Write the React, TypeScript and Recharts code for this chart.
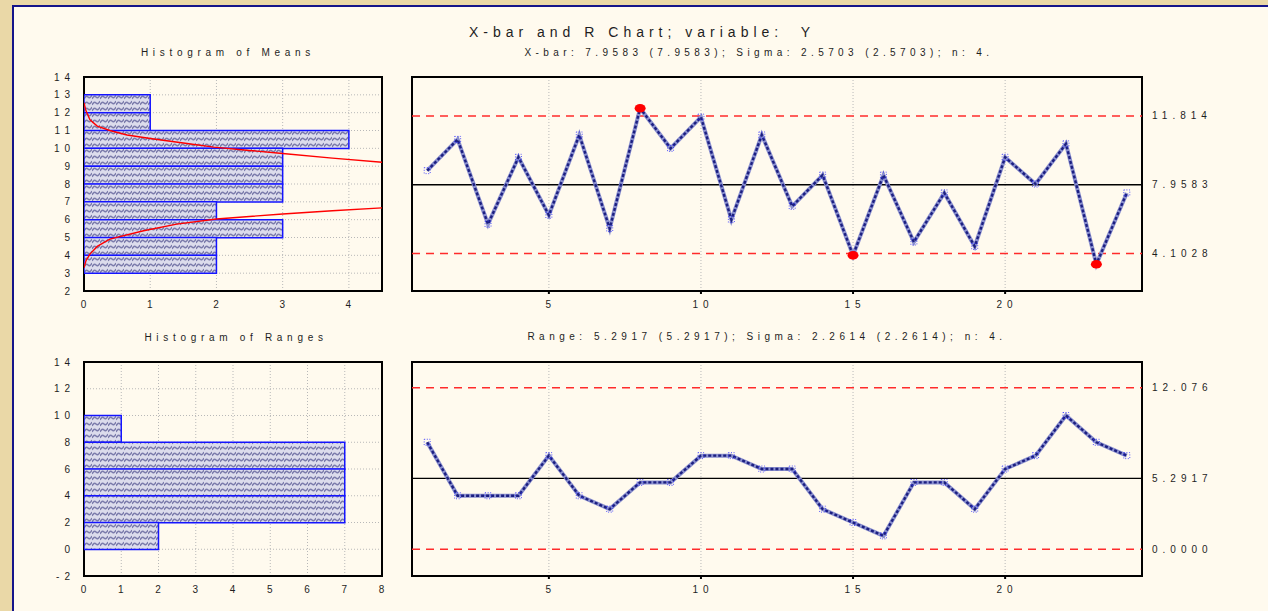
import React from "react";
import {
  ComposedChart,
  Line,
  Bar,
  Scatter,
  XAxis,
  YAxis,
  CartesianGrid,
  ReferenceLine,
  ReferenceArea,
} from "recharts";

// sample numbers and the two series
const samples = [1, 2, 3, 4, 5, 6, 7, 8, 9, 10, 11, 12, 13, 14, 15, 16, 17, 18, 19, 20, 21, 22, 23, 24];
const xbarMeans = [8.75, 10.5, 5.75, 9.5, 6.25, 10.75, 5.5, 12.25, 10, 11.75, 6, 10.75, 6.75, 8.5, 4, 8.5, 4.75, 7.5, 4.5, 9.5, 8, 10.25, 3.5, 7.5];
const ranges = [8, 4, 4, 4, 7, 4, 3, 5, 5, 7, 7, 6, 6, 3, 2, 1, 5, 5, 3, 6, 7, 10, 8, 7];

// control limits: LCL, CL, UCL
const xbarLimits = [4.1028, 7.9583, 11.814];
const xbarLimitLabels = ["4.1028", "7.9583", "11.814"];
const rangeLimits = [0, 5.2917, 12.076];
const rangeLimitLabels = ["0.0000", "5.2917", "12.076"];

// histograms (top bin first)
const meanBinLows = [13, 12, 11, 10, 9, 8, 7, 6, 5, 4, 3, 2];
const meanBinCounts = [0, 1, 1, 4, 3, 3, 3, 2, 3, 2, 2, 0];
const rangeBinLows = [12, 10, 8, 6, 4, 2, 0, -2];
const rangeBinCounts = [0, 0, 1, 7, 7, 7, 2, 0];

// normal curve: [count, value]
const normalUpper = [[0, 12.55], [0.03, 12.1], [0.09, 11.6], [0.2, 11.25], [0.39, 11.0], [0.65, 10.75], [1.0, 10.55], [1.5, 10.3], [1.96, 10.07], [2.5, 9.88], [3.0, 9.71], [3.75, 9.45], [4.5, 9.22]];
const normalLower = [[0, 3.3], [0.03, 3.7], [0.09, 4.07], [0.2, 4.5], [0.39, 4.91], [0.9, 5.38], [1.4, 5.75], [2.0, 6.04], [3.0, 6.32], [3.75, 6.5], [4.5, 6.66]];

// ticks
const meanValueTicks = [2, 3, 4, 5, 6, 7, 8, 9, 10, 11, 12, 13, 14];
const rangeValueTicks = [-2, 0, 2, 4, 6, 8, 10, 12, 14];
const meanCountTicks = [0, 1, 2, 3, 4];
const rangeCountTicks = [0, 1, 2, 3, 4, 5, 6, 7, 8];
const sampleTicks = [5, 10, 15, 20];

const FONT = '"Liberation Sans", Arial, sans-serif';
const INK = "#1e1e1e";
const GRID = "#b8b8b8";

const xbarRows = samples.map((s, i) => ({ s, m: xbarMeans[i] }));
const rangeRows = samples.map((s, i) => ({ s, r: ranges[i] }));
const meanBinRows = meanBinLows.map((lo, i) => ({ lo, n: meanBinCounts[i] }));
const rangeBinRows = rangeBinLows.map((lo, i) => ({ lo, n: rangeBinCounts[i] }));
const upperPts = normalUpper.map(([c, v]) => ({ c, v }));
const lowerPts = normalLower.map(([c, v]) => ({ c, v }));

function SpacedTick(props: any) {
  const { x, y, payload, anchor, dy, dx, labels, values } = props;
  let label = String(payload.value);
  if (labels && values) {
    const idx = values.indexOf(payload.value);
    if (idx >= 0) label = labels[idx];
  }
  return (
    <text
      x={x + (dx || 0)}
      y={y}
      dy={dy}
      textAnchor={anchor}
      fontSize={10}
      fill={INK}
      fontFamily={FONT}
      style={{ letterSpacing: "5px" }}
    >
      {label}
    </text>
  );
}

function HatchDefs({ id }: { id: string }) {
  return (
    <defs>
      <pattern id={id} width="8" height="6" patternUnits="userSpaceOnUse">
        <rect width="8" height="6" fill="#dcdcec" />
        <path d="M0 5 Q2 1 4 3 T8 1" stroke="#7c7cac" strokeWidth="1.5" fill="none" />
      </pattern>
    </defs>
  );
}

function SeriesDot(props: any) {
  const { cx, cy, value, lo, hi } = props;
  if (cx == null || cy == null) return <g />;
  if (value > hi || value < lo) {
    return <ellipse cx={cx} cy={cy} rx={5.5} ry={4.3} fill="#ff0000" />;
  }
  return (
    <rect x={cx - 3} y={cy - 3} width={6} height={6} fill="none" stroke="#2a2aff" strokeWidth={0.8} strokeDasharray="1 1.6" />
  );
}

function Histogram({ rows, valueTicks, countTicks, countMax, vMin, vMax, curves, patternId }: any) {
  return (
    <ComposedChart
      layout="vertical"
      width={370}
      height={251}
      data={rows}
      margin={{ top: 7, right: 8, bottom: 0, left: 0 }}
      barCategoryGap={0}
    >
      <HatchDefs id={patternId} />
      <CartesianGrid yAxisId="num" stroke={GRID} strokeDasharray="1 2" />
      <XAxis
        type="number"
        domain={[0, countMax]}
        ticks={countTicks}
        allowDataOverflow
        height={30}
        axisLine={false}
        tickLine={false}
        tickSize={3}
        tickMargin={7}
        interval={0}
        tick={(p: any) => <SpacedTick {...p} anchor="middle" dy="0.71em" dx={2} />}
      />
      <YAxis
        yAxisId="num"
        type="number"
        dataKey="v"
        reversed
        domain={[vMin, vMax]}
        ticks={valueTicks}
        allowDataOverflow
        width={64}
        axisLine={false}
        tickLine={false}
        tickSize={6}
        tickMargin={8}
        interval={0}
        tick={(p: any) => <SpacedTick {...p} anchor="end" dy="0.35em" dx={5} />}
      />
      <YAxis yAxisId="cat" type="category" dataKey="lo" hide width={0} />
      <Bar yAxisId="cat" dataKey="n" fill={`url(#${patternId})`} stroke="#1414ff" strokeWidth={1.5} isAnimationActive={false} />
      {curves.map((pts: any, i: number) => (
        <Scatter
          key={i}
          yAxisId="num"
          data={pts}
          dataKey="c"
          line={{ stroke: "#ff0000", strokeWidth: 1.4 }}
          lineType="joint"
          shape={() => <g />}
          isAnimationActive={false}
        />
      ))}
      <ReferenceArea yAxisId="num" x1={0} x2={countMax} y1={vMin} y2={vMax} fill="none" stroke="#000" strokeWidth={2} ifOverflow="visible" />
    </ComposedChart>
  );
}

function ControlChart({ rows, dataKey, vMin, vMax, valueTicks, limits, limitLabels }: any) {
  return (
    <ComposedChart width={840} height={251} data={rows} margin={{ top: 7, right: 0, bottom: 0, left: 12 }}>
      <CartesianGrid stroke={GRID} strokeDasharray="1 2" />
      <XAxis
        type="number"
        dataKey="s"
        domain={[0.5, 24.5]}
        ticks={sampleTicks}
        allowDataOverflow
        height={30}
        axisLine={false}
        tickLine={{ stroke: "#000", strokeWidth: 2 }}
        tickSize={3}
        tickMargin={7}
        interval={0}
        tick={(p: any) => <SpacedTick {...p} anchor="middle" dy="0.71em" dx={2} />}
      />
      <YAxis type="number" domain={[vMin, vMax]} ticks={valueTicks} allowDataOverflow width={0} tick={false} axisLine={false} tickLine={false} />
      <YAxis
        yAxisId="r"
        orientation="right"
        type="number"
        domain={[vMin, vMax]}
        ticks={limits}
        allowDataOverflow
        width={98}
        axisLine={false}
        tickLine={false}
        tickSize={6}
        tickMargin={4}
        interval={0}
        tick={(p: any) => <SpacedTick {...p} anchor="start" dy="0.35em" labels={limitLabels} values={limits} />}
      />
      <ReferenceLine y={limits[2]} stroke="#ff2b2b" strokeWidth={1.6} strokeDasharray="8 6" />
      <ReferenceLine y={limits[0]} stroke="#ff2b2b" strokeWidth={1.6} strokeDasharray="8 6" />
      <ReferenceLine y={limits[1]} stroke="#000" strokeWidth={1.3} />
      <Line dataKey={dataKey} stroke="#8b90cf" strokeWidth={4} dot={false} isAnimationActive={false} />
      <Line
        dataKey={dataKey}
        stroke="#1c1f80"
        strokeWidth={2.4}
        strokeDasharray="3 2"
        dot={(p: any) => <SeriesDot key={p.index} {...p} lo={limits[0]} hi={limits[2]} />}
        isAnimationActive={false}
      />
      <ReferenceArea x1={0.5} x2={24.5} y1={vMin} y2={vMax} fill="none" stroke="#000" strokeWidth={2} ifOverflow="visible" />
    </ComposedChart>
  );
}

const titleStyle = (cx: number, top: number, size: number, ls: number): React.CSSProperties => ({
  position: "absolute",
  left: cx - 400,
  width: 800,
  top,
  textAlign: "center",
  fontSize: size,
  lineHeight: `${size + 2}px`,
  letterSpacing: ls,
  color: INK,
  whiteSpace: "nowrap",
});

export default function App() {
  return (
    <div
      style={{
        position: "absolute",
        left: 0,
        top: 0,
        width: 1268,
        height: 611,
        overflow: "hidden",
        background: "#ead8a7",
        fontFamily: FONT,
      }}
    >
      <div
        style={{
          position: "absolute",
          left: 12,
          top: 5,
          width: 1300,
          height: 700,
          background: "#fffaee",
          borderLeft: "2px solid #14148a",
          borderTop: "2px solid #14148a",
        }}
      />
      <div style={titleStyle(642, 24, 14, 5)}>X-bar and R Chart; variable:&nbsp; Y</div>
      <div style={titleStyle(759, 47, 10, 4.4)}>X-bar: 7.9583 (7.9583); Sigma: 2.5703 (2.5703); n: 4.</div>
      <div style={titleStyle(228, 47, 10, 4.7)}>Histogram of Means</div>
      <div style={titleStyle(767, 331, 10, 4.5)}>Range: 5.2917 (5.2917); Sigma: 2.2614 (2.2614); n: 4.</div>
      <div style={titleStyle(236, 332, 10, 4.7)}>Histogram of Ranges</div>

      <div style={{ position: "absolute", left: 20, top: 70 }}>
        <Histogram
          rows={meanBinRows}
          valueTicks={meanValueTicks}
          countTicks={meanCountTicks}
          countMax={4.5}
          vMin={2}
          vMax={14}
          curves={[upperPts, lowerPts]}
          patternId="hatchM"
        />
      </div>
      <div style={{ position: "absolute", left: 400, top: 70 }}>
        <ControlChart rows={xbarRows} dataKey="m" vMin={2} vMax={14} valueTicks={meanValueTicks} limits={xbarLimits} limitLabels={xbarLimitLabels} />
      </div>
      <div style={{ position: "absolute", left: 20, top: 355 }}>
        <Histogram
          rows={rangeBinRows}
          valueTicks={rangeValueTicks}
          countTicks={rangeCountTicks}
          countMax={8}
          vMin={-2}
          vMax={14}
          curves={[]}
          patternId="hatchR"
        />
      </div>
      <div style={{ position: "absolute", left: 400, top: 355 }}>
        <ControlChart rows={rangeRows} dataKey="r" vMin={-2} vMax={14} valueTicks={rangeValueTicks} limits={rangeLimits} limitLabels={rangeLimitLabels} />
      </div>
    </div>
  );
}
